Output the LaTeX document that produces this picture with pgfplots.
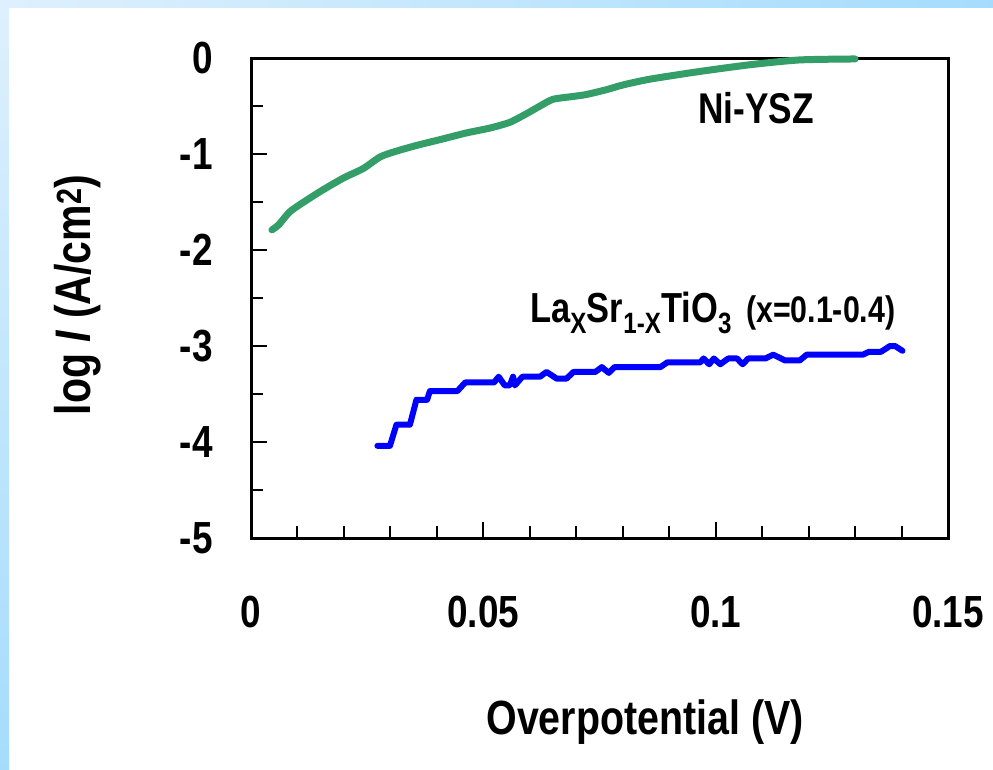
\documentclass[border=0pt]{standalone}
\usepackage{fontspec}
\setmainfont{Liberation Sans}[FakeStretch=0.82]
\usepackage{pgfplots}
\pgfplotsset{compat=1.18}
\definecolor{nigreen}{RGB}{51,158,104}
\definecolor{bandlight}{RGB}{222,240,253}
\definecolor{banddark}{RGB}{165,220,253}
\begin{document}
\begin{tikzpicture}[x=1pt,y=1pt]
\useasboundingbox (0,0) rectangle (993,-770);
\fill[white] (0,0) rectangle (993,-770);
\shade[left color=bandlight,right color=banddark] (0,0) rectangle (993,-8);
\shade[top color=bandlight,bottom color=banddark] (0,0) rectangle (9,-770);
\begin{axis}[
  at={(251pt,-538pt)}, anchor=south west,
  scale only axis, width=697pt, height=480pt,
  xmin=0, xmax=0.15, ymin=-5, ymax=0,
  xtick={0,0.05,0.1,0.15}, xticklabels={0,0.05,0.1,0.15},
  minor xtick={0.01,0.02,0.03,0.04,0.06,0.07,0.08,0.09,0.11,0.12,0.13,0.14},
  ytick={-5,-4,-3,-2,-1,0}, yticklabels={-5,-4,-3,-2,-1,0},
  minor ytick={-4.5,-3.5,-2.5,-1.5,-0.5},
  tick align=inside, xtick pos=bottom, ytick pos=left,
  major tick length=16pt, minor tick length=12pt,
  every tick/.style={black, line width=2pt},
  axis line style={line width=3pt},
  /pgf/number format/assume math mode=true,
  ticklabel style={font=\bfseries\fontsize{45}{45}\selectfont, inner sep=0pt},
  yticklabel style={anchor=east, xshift=-38pt},
  xticklabel style={anchor=north, yshift=-58pt},
  clip=false,
]
\addplot[nigreen, line width=7pt, line cap=round, line join=round, smooth, tension=0.4] coordinates {
(0.0045,-1.79) (0.0059,-1.74) (0.0084,-1.60) (0.0120,-1.48) (0.0156,-1.37)
(0.0199,-1.25) (0.0242,-1.15) (0.0278,-1.03) (0.0313,-0.97) (0.0357,-0.91)
(0.0407,-0.85) (0.0464,-0.78) (0.0514,-0.73) (0.0557,-0.67) (0.0593,-0.58)
(0.0622,-0.50) (0.0650,-0.43) (0.0694,-0.40) (0.0722,-0.38) (0.0765,-0.33)
(0.0801,-0.28) (0.0859,-0.22) (0.0966,-0.14) (0.1074,-0.07) (0.1181,-0.02)
(0.1300,-0.01)
};
\addplot[blue, line width=6pt, line cap=round, line join=round] coordinates {
(0.0272,-4.04) (0.0299,-4.04) (0.0313,-3.82) (0.0342,-3.82) (0.0356,-3.56)
(0.0379,-3.56) (0.0385,-3.47) (0.0444,-3.47) (0.0461,-3.38) (0.0523,-3.38)
(0.0533,-3.32) (0.0546,-3.41) (0.0557,-3.41) (0.0564,-3.32) (0.0568,-3.41)
(0.0584,-3.32) (0.0622,-3.32) (0.0636,-3.27) (0.0658,-3.34) (0.0679,-3.34)
(0.0694,-3.27) (0.0741,-3.27) (0.0755,-3.22) (0.0770,-3.28) (0.0782,-3.22)
(0.0881,-3.22) (0.0896,-3.17) (0.0967,-3.17) (0.0974,-3.13) (0.0986,-3.19)
(0.0996,-3.13) (0.1010,-3.19) (0.1027,-3.13) (0.1046,-3.13) (0.1058,-3.19)
(0.1070,-3.13) (0.1107,-3.13) (0.1124,-3.09) (0.1149,-3.15) (0.1181,-3.15)
(0.1196,-3.09) (0.1317,-3.09) (0.1330,-3.06) (0.1356,-3.06) (0.1375,-3.00)
(0.1386,-3.00) (0.1402,-3.05)
};
\end{axis}
\node[rotate=90, font=\bfseries\fontsize{50}{50}\selectfont, inner sep=0pt] at (78,-295) {log \textit{I} (A/cm\textsuperscript{2})};
\node[font=\bfseries\fontsize{48}{48}\selectfont, inner sep=0pt] at (645,-722) {Overpotential (V)};
\node[font=\bfseries\fontsize{43}{43}\selectfont, inner sep=0pt] at (756,-108) {Ni-YSZ};
\node[anchor=base west, inner sep=0pt, font=\bfseries\fontsize{42}{42}\selectfont] at (530,-322) {La\textsubscript{X}Sr\textsubscript{1-X}TiO\textsubscript{3}\hspace{14pt}{\fontsize{37}{37}\selectfont(x=0.1-0.4)}};
\end{tikzpicture}
\end{document}
